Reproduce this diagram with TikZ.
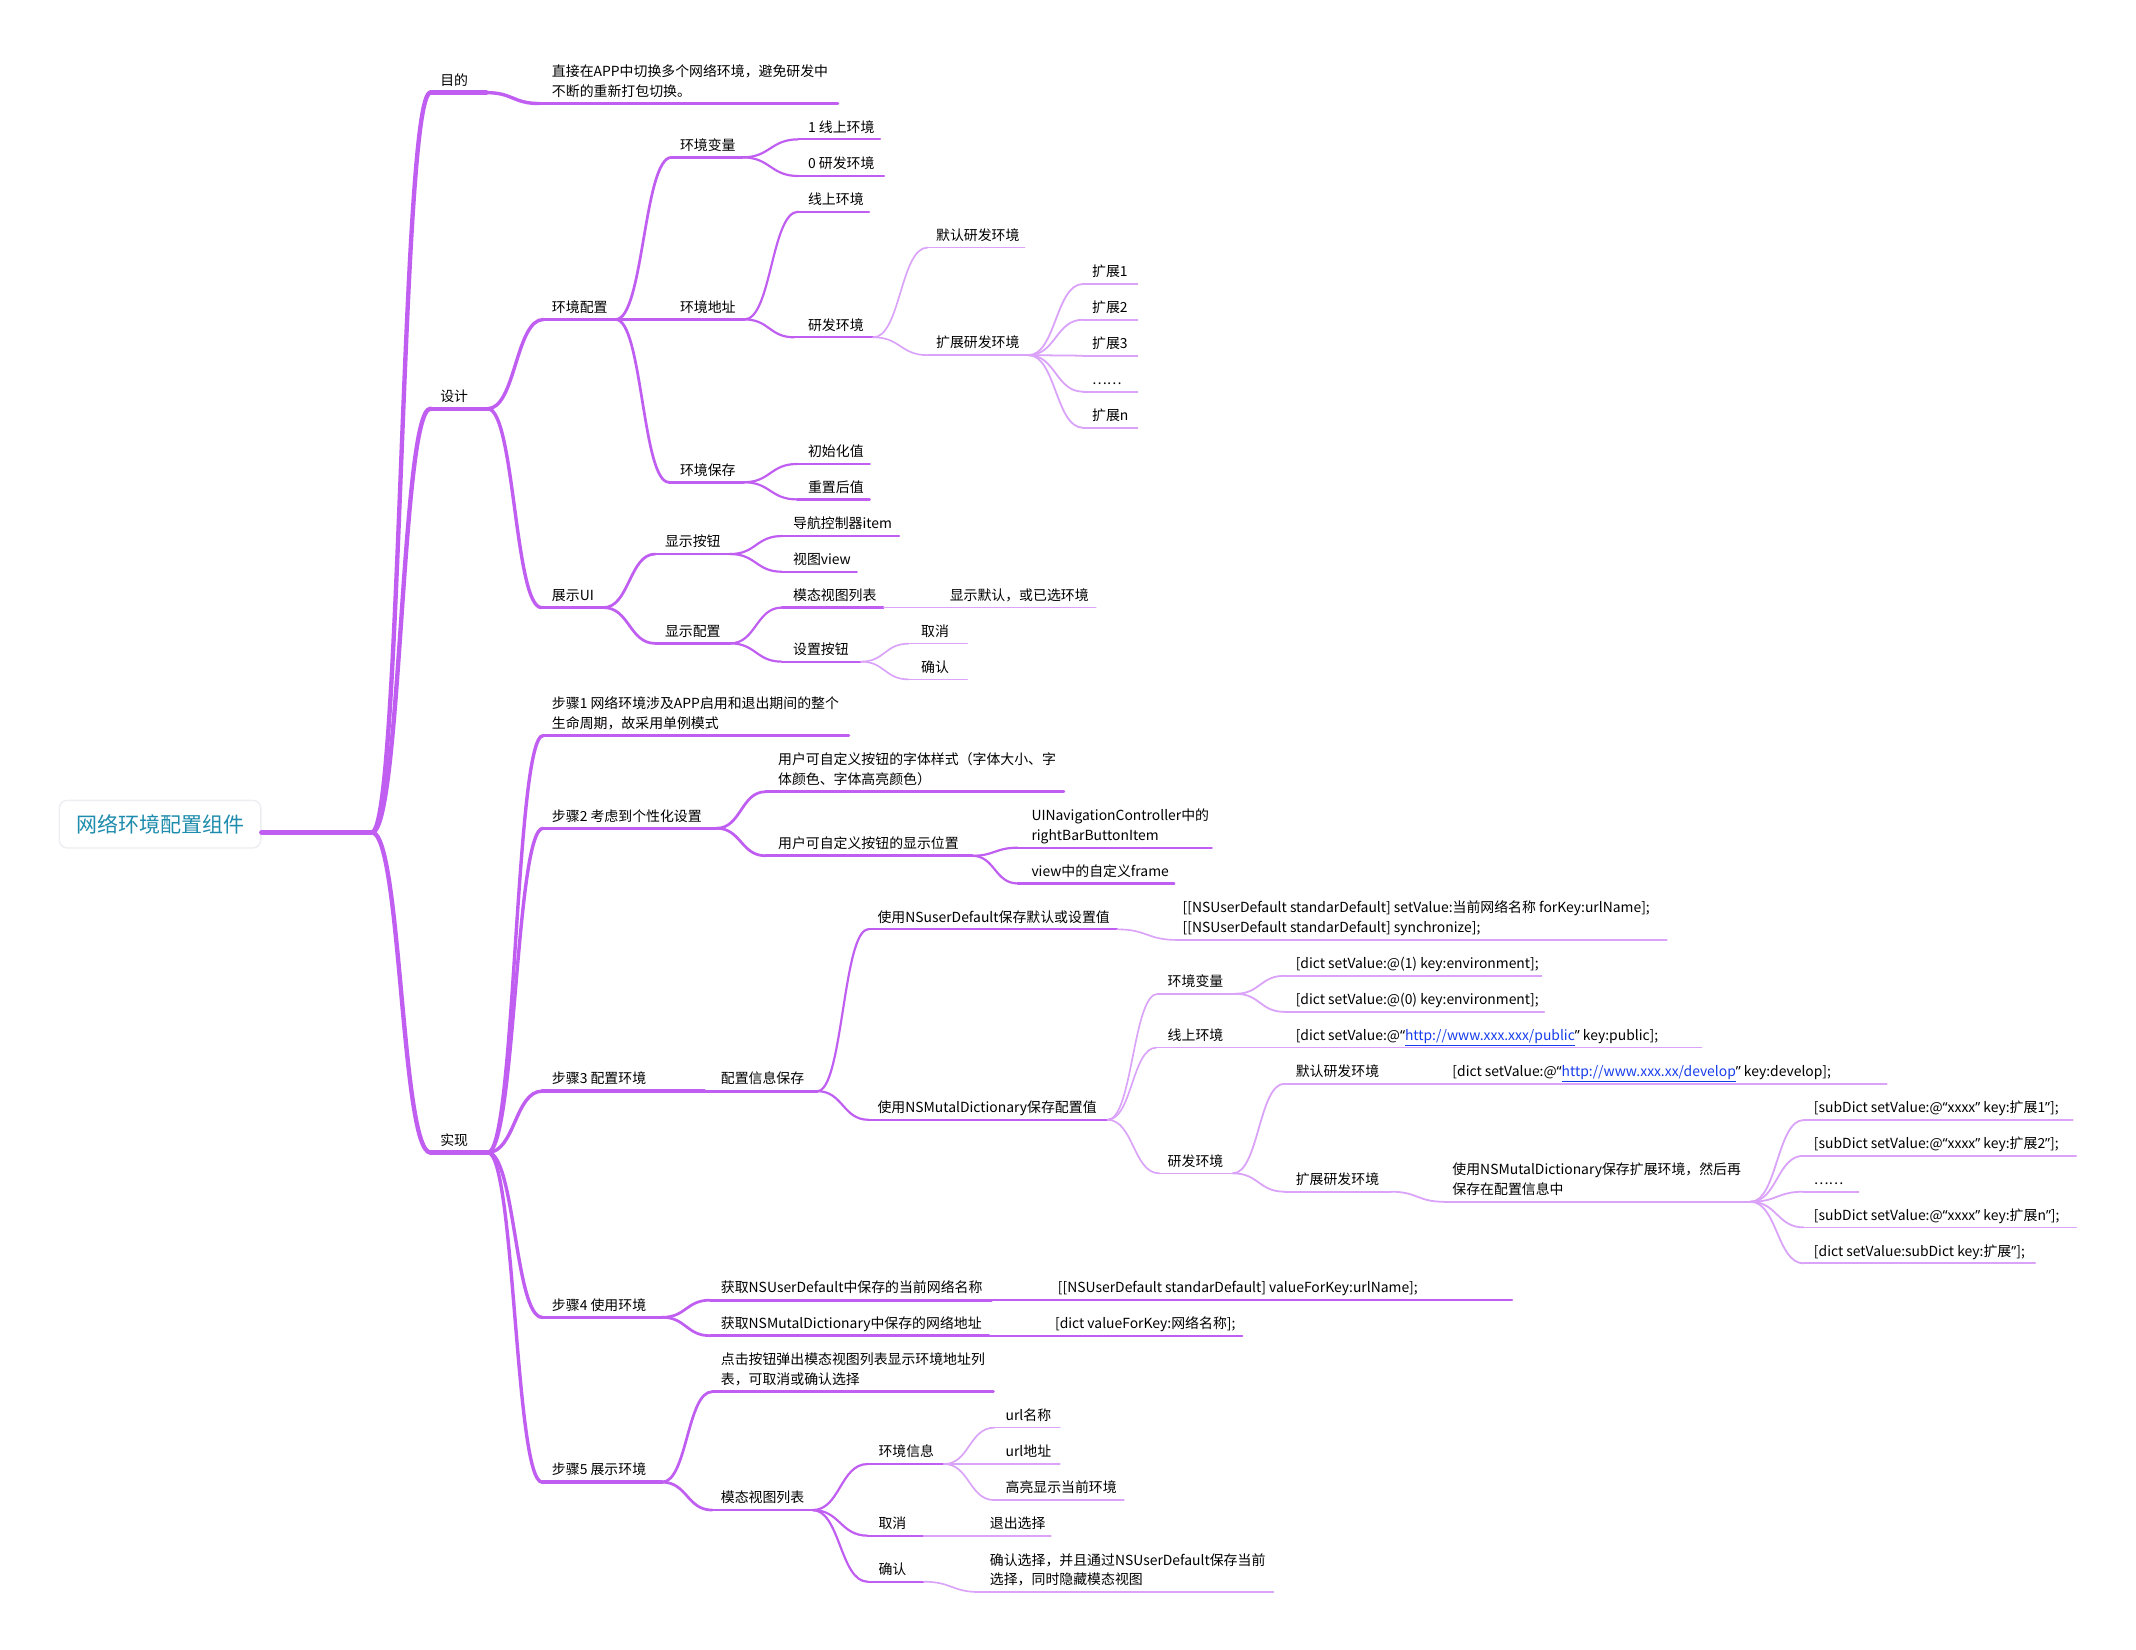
\documentclass[tikz,border=0pt]{standalone}
\usepackage{fontspec}
\setmainfont{Noto Sans CJK SC}
\newfontfamily\quotefont{Noto Sans}
\usepackage{xcolor}
\usepackage{tikz}
\usetikzlibrary{calc}
\definecolor{mmpurple}{RGB}{192,94,242}
\definecolor{mmlight}{RGB}{218,162,248}
\definecolor{mmteal}{RGB}{30,140,172}
\definecolor{mmborder}{RGB}{236,238,241}
\definecolor{mmlink}{RGB}{24,62,235}

% branch: name, style, line start x, line end x, line y, text x, text
\newcommand{\mmnode}[7]{%
  \coordinate (#1-s) at (#3,#5);
  \coordinate (#1-e) at (#4,#5);
  \draw[#2] (#1-s) -- (#1-e);
  \node[mmtext] (#1) at (#6,#5-3.1) {#7};
}
% curved connector: parent, child, style
\newcommand{\mmlink}[3]{%
  \coordinate (#1-#2-m) at ($(#1-e)!0.5!(#2-s)$);
  \draw[#3] (#1-e) .. controls (#1-#2-m |- #1-e) and (#1-#2-m |- #2-s) .. (#2-s);
}
\newcommand{\weblink}[1]{\textcolor{mmlink}{\underline{#1}}}
\newcommand{\mmoq}{{\quotefont “}}
\newcommand{\mmcq}{{\quotefont ”}}

\begin{document}
\begin{tikzpicture}[x=1pt, y=-1pt,
  mmtext/.style={anchor=south west, inner sep=0pt, align=left, text depth=2pt,
    font=\fontsize{10.2}{14.5}\selectfont},
  lvA/.style={mmpurple, line width=3.2pt, line cap=round},
  lvB/.style={mmpurple, line width=2.5pt, line cap=round},
  lvC/.style={mmpurple, line width=2pt, line cap=round},
  lvD/.style={mmpurple, line width=1.6pt, line cap=round},
  lvE/.style={mmlight, line width=1.2pt, line cap=round},
  lvF/.style={mmlight, line width=1.3pt, line cap=round}]
% outer
\fill[white] (0,0) rectangle (1568,1211);
\useasboundingbox (0,0) rectangle (1568,1211);

% root
\node[draw=mmborder, line width=1pt, rounded corners=6pt, fill=white,
  minimum width=148pt, minimum height=35pt, inner sep=0pt, text=mmteal,
  font=\fontsize{15.4}{18}\selectfont] (root) at (117.5,605) {网络环境配置组件};
\coordinate (root-e) at (273,611);
\draw[lvA, line width=3.6pt] (root.east |- root-e) -- (root-e);

% ---- first level ----
\mmnode{goal}{lvA}{316}{357}{68}{323}{目的}
\mmnode{design}{lvA}{316}{358}{300}{323}{设计}
\mmnode{impl}{lvA}{316}{358}{846}{323}{实现}
\mmlink{root}{goal}{lvA}
\mmlink{root}{design}{lvA}
\mmlink{root}{impl}{lvA}

% ---- goal ----
\mmnode{goaltxt}{lvB}{396}{615}{76}{405}{直接在APP中切换多个网络环境，避免研发中\\不断的重新打包切换。}
\mmlink{goal}{goaltxt}{lvB}

% ---- design ----
\mmnode{cfg}{lvB}{399}{452}{234.5}{405}{环境配置}
\mmnode{showui}{lvB}{397.5}{443}{446}{405}{展示UI}
\mmlink{design}{cfg}{lvB}
\mmlink{design}{showui}{lvB}

\mmnode{envvar}{lvC}{493}{545}{115.5}{499}{环境变量}
\mmnode{envaddr}{lvC}{493}{546.5}{234.5}{499}{环境地址}
\mmnode{envsave}{lvC}{491}{546}{354}{499}{环境保存}
\mmlink{cfg}{envvar}{lvC}
\mmlink{cfg}{envaddr}{lvC}
\mmlink{cfg}{envsave}{lvC}

\mmnode{ev1}{lvD}{586}{646}{102.3}{593}{1 线上环境}
\mmnode{ev0}{lvD}{586}{649}{129.2}{593}{0 研发环境}
\mmlink{envvar}{ev1}{lvD}
\mmlink{envvar}{ev0}{lvD}

\mmnode{addron}{lvD}{586}{638}{155.4}{593}{线上环境}
\mmnode{addrdev}{lvD}{583}{641}{247.6}{593}{研发环境}
\mmlink{envaddr}{addron}{lvD}
\mmlink{envaddr}{addrdev}{lvD}

\mmnode{devdef}{lvE}{681}{752}{181.7}{687}{默认研发环境}
\mmnode{devext}{lvE}{681}{755}{260.7}{687}{扩展研发环境}
\mmlink{addrdev}{devdef}{lvE}
\mmlink{addrdev}{devext}{lvE}

\foreach \i/\yy/\lbl in {1/208.5/扩展1, 2/234.7/扩展2, 3/261.1/扩展3, 4/287.5/……, 5/314/扩展n}{
  \mmnode{ext\i}{lvF}{795}{835}{\yy}{801.5}{\lbl}
  \mmlink{devext}{ext\i}{lvF}
}

\mmnode{sv1}{lvD}{585}{638.5}{340.6}{593}{初始化值}
\mmnode{sv2}{lvD}{585}{638.5}{366.6}{593}{重置后值}
\mmlink{envsave}{sv1}{lvD}
\mmlink{envsave}{sv2}{lvD}

\mmnode{btn}{lvC}{481}{536}{406.7}{488}{显示按钮}
\mmnode{disp}{lvC}{481}{536}{472.3}{488}{显示配置}
\mmlink{showui}{btn}{lvC}
\mmlink{showui}{disp}{lvC}

\mmnode{btnnav}{lvD}{574}{660}{393.5}{582}{导航控制器item}
\mmnode{btnview}{lvD}{574}{629}{419.7}{582}{视图view}
\mmlink{btn}{btnnav}{lvD}
\mmlink{btn}{btnview}{lvD}

\mmnode{modal}{lvD}{574}{648.6}{446}{582}{模态视图列表}
\mmnode{setbtn}{lvD}{574}{632}{485.7}{582}{设置按钮}
\mmlink{disp}{modal}{lvD}
\mmlink{disp}{setbtn}{lvD}
\mmnode{modalnote}{lvE}{648.6}{804.4}{446}{697}{显示默认，或已选环境}

\mmnode{cancel}{lvE}{667}{710}{472.5}{676}{取消}
\mmnode{confirm}{lvE}{667}{710}{498.7}{676}{确认}
\mmlink{setbtn}{cancel}{lvE}
\mmlink{setbtn}{confirm}{lvE}

% ---- implementation ----
\mmnode{st1}{lvB}{398.7}{623}{540}{405}{步骤1 网络环境涉及APP启用和退出期间的整个\\生命周期，故采用单例模式}
\mmnode{st2}{lvB}{398.7}{526}{608}{405}{步骤2 考虑到个性化设置}
\mmnode{st3}{lvB}{398}{517}{801}{405}{步骤3 配置环境}
\mmnode{st4}{lvB}{398}{486}{967}{405}{步骤4 使用环境}
\mmnode{st5}{lvB}{398}{486}{1088}{405}{步骤5 展示环境}
\foreach \s in {st1,st2,st3,st4,st5}{\mmlink{impl}{\s}{lvB}}

% step 2
\mmnode{stfont}{lvC}{562}{781}{581.2}{571}{用户可自定义按钮的字体样式（字体大小、字\\体颜色、字体高亮颜色）}
\mmnode{stpos}{lvC}{562}{713.6}{628.2}{571}{用户可自定义按钮的显示位置}
\mmlink{st2}{stfont}{lvC}
\mmlink{st2}{stpos}{lvC}
\mmnode{posnav}{lvD}{747}{889.5}{622.3}{757}{UINavigationController中的\\rightBarButtonItem}
\mmnode{posframe}{lvD}{747}{862}{648.5}{757}{view中的自定义frame}
\mmlink{stpos}{posnav}{lvD}
\mmlink{stpos}{posframe}{lvD}

% step 3
\mmnode{cfgsave}{lvC}{517}{600}{801}{529}{配置信息保存}
\mmnode{nsud}{lvD}{637.5}{820}{682.2}{644}{使用NSuserDefault保存默认或设置值}
\mmnode{nsdict}{lvD}{637.5}{813}{822}{644}{使用NSMutalDictionary保存配置值}
\mmlink{cfgsave}{nsud}{lvD}
\mmlink{cfgsave}{nsdict}{lvD}
\mmnode{nsudcode}{lvE}{864}{1223.5}{690}{868}{[[NSUserDefault standarDefault] setValue:当前网络名称 forKey:urlName];\\{}[[NSUserDefault standarDefault] synchronize];}
\mmlink{nsud}{nsudcode}{lvE}

\mmnode{dvar}{lvE}{850}{907}{729.5}{857}{环境变量}
\mmnode{donline}{lvE}{849}{940}{769}{857}{线上环境}
\mmnode{ddev}{lvE}{851}{905}{861.3}{857}{研发环境}
\mmlink{nsdict}{dvar}{lvE}
\mmlink{nsdict}{donline}{lvE}
\mmlink{nsdict}{ddev}{lvE}

\mmnode{dvar1}{lvF}{943}{1131.6}{716.3}{951}{[dict setValue:@(1) key:environment];}
\mmnode{dvar0}{lvF}{943}{1133.5}{742.8}{951}{[dict setValue:@(0) key:environment];}
\mmlink{dvar}{dvar1}{lvF}
\mmlink{dvar}{dvar0}{lvF}
\mmnode{donlinecode}{lvF}{940}{1249}{769}{951}{[dict setValue:@\mmoq\weblink{http://www.xxx.xxx/public}\mmcq\ key:public];}

\mmnode{ddevdef}{lvF}{943}{1055}{795.5}{951}{默认研发环境}
\mmnode{ddevext}{lvF}{943}{1021}{874.8}{951}{扩展研发环境}
\mmlink{ddev}{ddevdef}{lvF}
\mmlink{ddev}{ddevext}{lvF}
\mmnode{ddevdefcode}{lvF}{1055}{1385}{795.5}{1066}{[dict setValue:@\mmoq\weblink{http://www.xxx.xx/develop}\mmcq\ key:develop];}
\mmnode{ddevextnote}{lvF}{1060}{1285}{882.2}{1066}{使用NSMutalDictionary保存扩展环境，然后再\\保存在配置信息中}
\mmlink{ddevext}{ddevextnote}{lvF}

\foreach \i/\yy/\xe/\lbl in {1/822.2/1521.5/{[subDict setValue:@\mmoq xxxx\mmcq\ key:扩展1\mmcq];},
    2/848.4/1524/{[subDict setValue:@\mmoq xxxx\mmcq\ key:扩展2\mmcq];},
    3/874.8/1364.3/{……},
    4/901/1524/{[subDict setValue:@\mmoq xxxx\mmcq\ key:扩展n\mmcq];},
    5/927.4/1494/{[dict setValue:subDict key:扩展\mmcq];}}{
  \mmnode{sub\i}{lvF}{1324}{\xe}{\yy}{1331.4}{\lbl}
  \mmlink{ddevextnote}{sub\i}{lvF}
}

% step 4
\mmnode{get1}{lvC}{521.4}{728}{954.4}{529}{获取NSUserDefault中保存的当前网络名称}
\mmnode{get2}{lvC}{521.4}{726}{980.5}{529}{获取NSMutalDictionary中保存的网络地址}
\mmlink{st4}{get1}{lvC}
\mmlink{st4}{get2}{lvC}
\mmnode{get1code}{lvD}{728}{1110}{954.4}{776.4}{[[NSUserDefault standarDefault] valueForKey:urlName];}
\mmnode{get2code}{lvD}{726}{912}{980.5}{774.3}{[dict valueForKey:网络名称];}

% step 5
\mmnode{click}{lvC}{522.8}{729.3}{1021.6}{529}{点击按钮弹出模态视图列表显示环境地址列\\表，可取消或确认选择}
\mmnode{mlist}{lvC}{522.8}{596.5}{1108.5}{529}{模态视图列表}
\mmlink{st5}{click}{lvC}
\mmlink{st5}{mlist}{lvC}

\mmnode{info}{lvD}{637}{693}{1074.7}{644.7}{环境信息}
\mmnode{mcancel}{lvD}{637}{678}{1127.3}{644.7}{取消}
\mmnode{mok}{lvD}{637}{678}{1161.1}{644.7}{确认}
\mmlink{mlist}{info}{lvD}
\mmlink{mlist}{mcancel}{lvD}
\mmlink{mlist}{mok}{lvD}

\mmnode{url1}{lvE}{730}{778}{1048}{738}{url名称}
\mmnode{url2}{lvE}{730}{778}{1074.7}{738}{url地址}
\mmnode{url3}{lvE}{730}{825}{1101.2}{738}{高亮显示当前环境}
\mmlink{info}{url1}{lvE}
\mmlink{info}{url2}{lvE}
\mmlink{info}{url3}{lvE}

\mmnode{mcancelnote}{lvE}{678}{771.4}{1127.3}{726.5}{退出选择}
\mmnode{moknote}{lvE}{719.4}{934.7}{1168.7}{726.5}{确认选择，并且通过NSUserDefault保存当前\\选择，同时隐藏模态视图}
\mmlink{mok}{moknote}{lvE}
\end{tikzpicture}
\end{document}
